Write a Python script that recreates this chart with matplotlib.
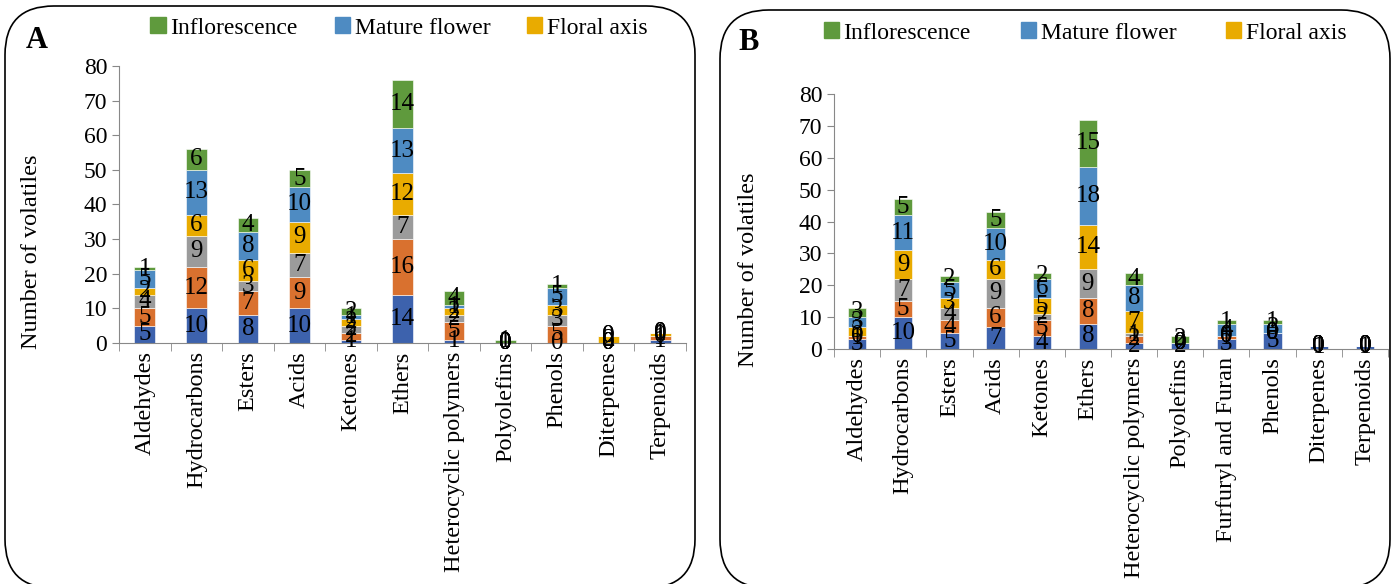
import numpy as np
import matplotlib
matplotlib.use("Agg")
import matplotlib.pyplot as plt
from matplotlib.patches import FancyBboxPatch, Patch

plt.rcParams['font.family'] = ['Liberation Serif', 'DejaVu Serif']

# ---- data ----
cat_A = ['Aldehydes', 'Hydrocarbons', 'Esters', 'Acids', 'Ketones', 'Ethers',
         'Heterocyclic polymers', 'Polyolefins', 'Phenols', 'Diterpenes', 'Terpenoids']
cat_B = ['Aldehydes', 'Hydrocarbons', 'Esters', 'Acids', 'Ketones', 'Ethers',
         'Heterocyclic polymers', 'Polyolefins', 'Furfuryl and Furan', 'Phenols',
         'Diterpenes', 'Terpenoids']

# series bottom -> top (only the three top series are named in the legend)
A_s1 = [5, 10, 8, 10, 1, 14, 1, 0, 0, 0, 1]
A_s2 = [5, 12, 7, 9, 2, 16, 5, 0, 5, 0, 1]
A_s3 = [4, 9, 3, 7, 2, 7, 2, 0, 3, 0, 0]
A_floral = [2, 6, 6, 9, 2, 12, 2, 0, 3, 2, 1]
A_mature = [5, 13, 8, 10, 1, 13, 1, 0, 5, 0, 0]
A_infl = [1, 6, 4, 5, 2, 14, 4, 1, 1, 0, 0]

B_s1 = [3, 10, 5, 7, 4, 8, 2, 2, 3, 5, 1, 1]
B_s2 = [1, 5, 4, 6, 5, 8, 2, 0, 1, 0, 0, 0]
B_s3 = [0, 7, 4, 9, 2, 9, 1, 0, 0, 0, 0, 0]
B_floral = [3, 9, 3, 6, 5, 14, 7, 0, 0, 0, 0, 0]
B_mature = [3, 11, 5, 10, 6, 18, 8, 0, 4, 3, 0, 0]
B_infl = [3, 5, 2, 5, 2, 15, 4, 2, 1, 1, 0, 0]

colors = ['#3d62ad', '#d9712f', '#9b9b9b', '#e9ab00', '#4e8bc2', '#5f9a3d']
legend_names = ['Inflorescence', 'Mature flower', 'Floral axis']

W, H = 1394, 584
fig = plt.figure(figsize=(W / 100, H / 100), dpi=100)

# rounded frames
for x0, y0, x1, y1 in [(5, 6, 695, 588), (720, 10, 1390, 588)]:
    box = FancyBboxPatch((x0 / W, 1 - y1 / H), (x1 - x0) / W, (y1 - y0) / H,
                         boxstyle="round,pad=0,rounding_size=0.035",
                         transform=fig.transFigure, fill=False, ec='black', lw=1.2,
                         mutation_aspect=W / H)
    fig.patches.append(box)


def draw_panel(rect, cats, series, letter, letter_xy, leg_xy, ylab_xy, colsp):
    ax = fig.add_axes(rect)
    x = np.arange(len(cats))
    bottom = np.zeros(len(cats))
    for vals, c in zip(series, colors):
        bars = ax.bar(x, vals, 0.4, bottom=bottom, color=c, edgecolor='white', linewidth=0.4)
        ax.bar_label(bars, labels=[str(v) for v in vals], label_type='center', fontsize=18)
        bottom = bottom + np.array(vals)
    ax.set_xlim(-0.5, len(cats) - 0.5)
    ax.set_ylim(0, 80)
    ax.set_yticks(range(0, 81, 10))
    ax.set_xticks(x)
    ax.set_xticklabels(cats, rotation=90, fontsize=17.5)
    ax.set_xticks(np.arange(-0.5, len(cats), 1), minor=True)
    ax.tick_params(axis='x', which='major', length=0, pad=6)
    ax.tick_params(axis='x', which='minor', length=6, color='#888888')
    ax.tick_params(axis='y', labelsize=17, length=5, color='#888888')
    for s in ['top', 'right']:
        ax.spines[s].set_visible(False)
    ax.spines['left'].set_color('#888888')
    ax.spines['bottom'].set_color('#888888')
    ax.set_ylabel('Number of volatiles', fontsize=17.5)
    ax.yaxis.set_label_coords(ylab_xy[0], ylab_xy[1])
    fig.text(letter_xy[0] / W, 1 - letter_xy[1] / H, letter, fontsize=22,
             fontweight='bold', ha='left', va='center')
    handles = [Patch(color=colors[5]), Patch(color=colors[4]), Patch(color=colors[3])]
    fig.legend(handles, legend_names, loc='center', ncol=3, frameon=False,
               bbox_to_anchor=(leg_xy[0] / W, 1 - leg_xy[1] / H), fontsize=17,
               handlelength=0.65, handleheight=0.65, handletextpad=0.2,
               columnspacing=colsp)
    return ax


draw_panel([119 / W, 1 - 343 / H, (686 - 119) / W, (343 - 66) / H], cat_A,
           [A_s1, A_s2, A_s3, A_floral, A_mature, A_infl], 'A', (26, 40), (399, 28),
           (-0.135, 0.33), 1.55)
draw_panel([834 / W, 1 - 349 / H, (1388 - 834) / W, (349 - 94) / H], cat_B,
           [B_s1, B_s2, B_s3, B_floral, B_mature, B_infl], 'B', (738, 42), (1085, 33),
           (-0.135, 0.31), 2.1)

fig.savefig('out.png', dpi=100)
